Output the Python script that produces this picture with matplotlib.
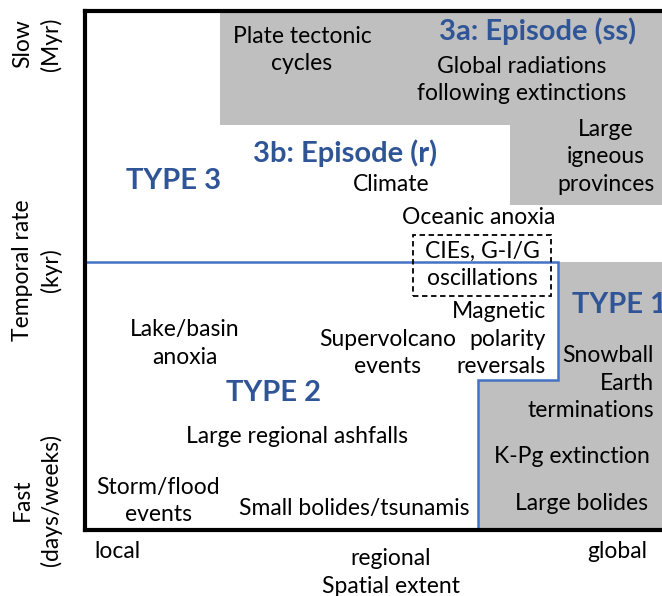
import matplotlib
matplotlib.use('Agg')
import matplotlib.pyplot as plt
from matplotlib.patches import Polygon, Rectangle

plt.rcParams['font.family'] = ['Lato', 'DejaVu Sans']

# region outlines in axes units (0 = local / fast, 1 = global / slow)
grey_top_x = [0.234, 1.0, 1.0, 0.737, 0.737, 0.234]
grey_top_y = [1.0, 1.0, 0.626, 0.626, 0.780, 0.780]
type1_x = [0.681, 0.681, 0.820, 0.820, 1.0, 1.0]
type1_y = [0.0, 0.289, 0.289, 0.516, 0.516, 0.0]
border_x = [0.0, 0.820, 0.820, 0.681, 0.681]
border_y = [0.516, 0.516, 0.289, 0.289, 0.0]
cie_box = (0.568, 0.451, 0.240, 0.117)

# event labels: text, x, y, alignment
events = [
    ("Plate tectonic\ncycles", 0.376, 0.925, 'center'),
    ("Global radiations\nfollowing extinctions", 0.757, 0.867, 'center'),
    ("Large\nigneous\nprovinces", 0.903, 0.719, 'center'),
    ("Climate", 0.530, 0.665, 'center'),
    ("Oceanic anoxia", 0.683, 0.603, 'center'),
    ("CIEs, G-I/G\noscillations", 0.688, 0.511, 'center'),
    ("Magnetic\npolarity\nreversals", 0.799, 0.368, 'right'),
    ("Supervolcano\nevents", 0.525, 0.341, 'center'),
    ("Lake/basin\nanoxia", 0.173, 0.360, 'center'),
    ("Snowball\nEarth\nterminations", 0.986, 0.283, 'right'),
    ("Large regional ashfalls", 0.367, 0.181, 'center'),
    ("K-Pg extinction", 0.844, 0.141, 'center'),
    ("Storm/flood\nevents", 0.127, 0.056, 'center'),
    ("Small bolides/tsunamis", 0.466, 0.042, 'center'),
    ("Large bolides", 0.861, 0.052, 'center'),
]

# category headings
headings = [
    ("3a: Episode (ss)", 0.785, 0.961, 'center'),
    ("3b: Episode (r)", 0.451, 0.726, 'center'),
    ("TYPE 3", 0.154, 0.672, 'center'),
    ("TYPE 1", 0.844, 0.434, 'left'),
    ("TYPE 2", 0.326, 0.264, 'center'),
]

spatial_ticks = ["local", "regional\nSpatial extent", "global"]
temporal_ticks = ["Slow\n(Myr)", "Temporal rate\n(kyr)", "Fast\n(days/weeks)"]

grey = '#bfbfbf'
line_blue = '#4472c4'
text_blue = '#2f5597'

fig = plt.figure(figsize=(6.62, 5.96), dpi=100)
ax = fig.add_axes([85 / 662, 1 - 530 / 596, 577 / 662, 519 / 596])
ax.set_xlim(0, 1)
ax.set_ylim(0, 1)
ax.set_xticks([])
ax.set_yticks([])
for side in ['left', 'top', 'bottom']:
    ax.spines[side].set_linewidth(3)
ax.spines['right'].set_visible(False)

ax.add_patch(Polygon(list(zip(grey_top_x, grey_top_y)), closed=True,
                     facecolor=grey, edgecolor='none', zorder=1))
ax.add_patch(Polygon(list(zip(type1_x, type1_y)), closed=True,
                     facecolor=grey, edgecolor='none', zorder=1))
ax.plot(border_x, border_y, color=line_blue, lw=1.8, zorder=2,
        solid_joinstyle='miter')
ax.add_patch(Rectangle(cie_box[:2], cie_box[2], cie_box[3], fill=False,
                       edgecolor='black', lw=1.3, ls=(0, (3, 2)), zorder=3))

for txt, x, y, ha in events:
    ax.text(x, y, txt, ha=ha, va='center', fontsize=16.5, multialignment=ha,
            linespacing=1.4, zorder=4)

for txt, x, y, ha in headings:
    ax.text(x, y, txt, ha=ha, va='center', fontsize=21, fontweight='bold',
            color=text_blue, zorder=4, clip_on=False)

# axis captions in figure units
tick_x = [117 / 662, 391 / 662, 617 / 662]
tick_y = [0.074, 0.040, 0.074]
for txt, x, y in zip(spatial_ticks, tick_x, tick_y):
    fig.text(x, y, txt, ha='center', va='center', fontsize=16.5,
             linespacing=1.4)

side_y = [1 - 44 / 596, 1 - 270 / 596, 1 - 500 / 596]
for txt, y in zip(temporal_ticks, side_y):
    fig.text(37 / 662, y, txt, ha='center', va='center', fontsize=16.5,
             rotation=90, linespacing=1.4)

fig.savefig('out.png', dpi=100)
